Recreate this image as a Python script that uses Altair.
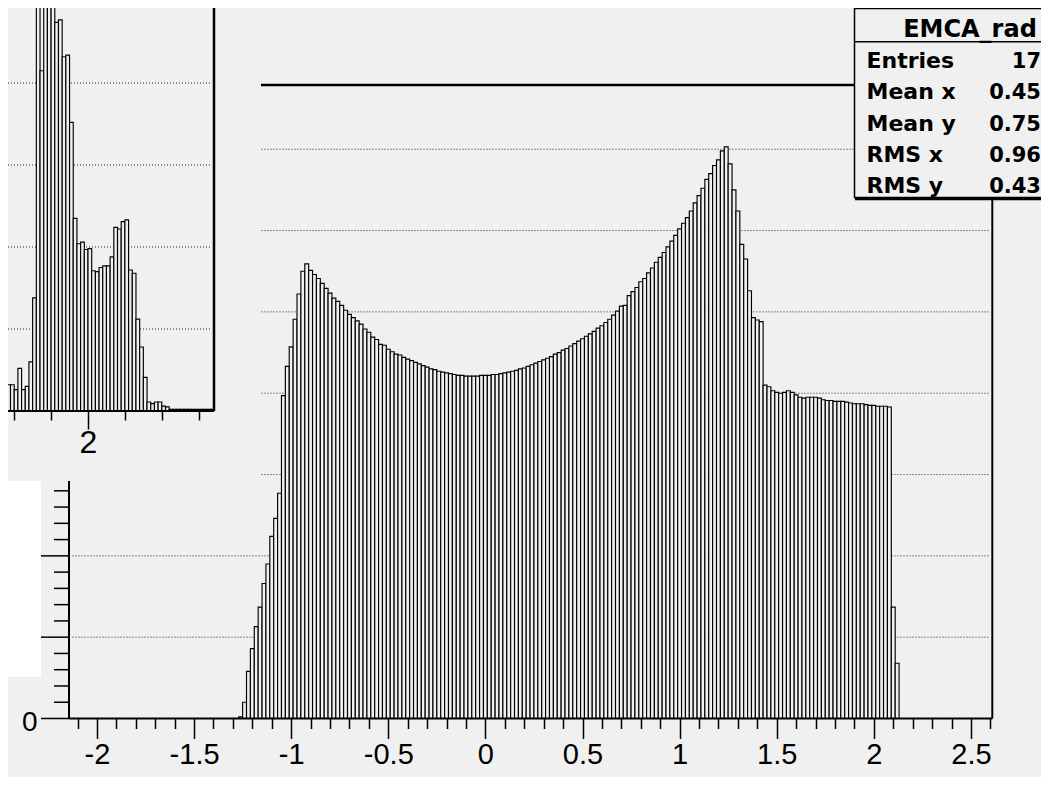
import altair as alt
import pandas as pd

BG = "#f0f0f0"

# ---------------- data ----------------
MAIN_BIN_START = -1.27
MAIN_BIN_WIDTH = 0.02
MAIN_COUNTS = [
    0.02, 0.20, 0.58, 0.86, 1.13, 1.37, 1.66, 1.90, 2.24, 2.46,
    2.77, 3.97, 4.33, 4.57, 4.91, 5.22, 5.50, 5.59, 5.51, 5.46,
    5.41, 5.35, 5.29, 5.23, 5.17, 5.13, 5.08, 5.02, 4.97, 4.93,
    4.89, 4.85, 4.79, 4.75, 4.69, 4.66, 4.60, 4.59, 4.54, 4.51,
    4.48, 4.47, 4.44, 4.42, 4.40, 4.38, 4.36, 4.34, 4.32, 4.30,
    4.29, 4.27, 4.26, 4.25, 4.24, 4.23, 4.22, 4.22, 4.21, 4.21,
    4.21, 4.21, 4.22, 4.22, 4.22, 4.23, 4.23, 4.24, 4.25, 4.26,
    4.27, 4.28, 4.30, 4.31, 4.33, 4.35, 4.37, 4.39, 4.41, 4.43,
    4.45, 4.48, 4.50, 4.53, 4.55, 4.58, 4.61, 4.64, 4.67, 4.70,
    4.73, 4.76, 4.80, 4.83, 4.87, 4.91, 4.96, 5.01, 5.07, 5.08,
    5.20, 5.25, 5.30, 5.37, 5.41, 5.48, 5.54, 5.61, 5.67, 5.73,
    5.80, 5.87, 5.94, 6.02, 6.09, 6.16, 6.24, 6.34, 6.43, 6.52,
    6.63, 6.70, 6.80, 6.87, 6.98, 7.03, 6.82, 6.50, 6.24, 5.83,
    5.65, 5.26, 4.93, 4.90, 4.88, 4.10, 4.08, 4.03, 4.01, 4.00,
    4.01, 4.03, 4.01, 3.98, 3.95, 3.94, 3.95, 3.95, 3.95, 3.94,
    3.92, 3.91, 3.91, 3.90, 3.90, 3.90, 3.89, 3.88, 3.87, 3.87,
    3.87, 3.86, 3.85, 3.85, 3.84, 3.84, 3.84, 3.83, 1.37, 0.68,
]

INSET_BIN_START = 1.52
INSET_BIN_WIDTH = 0.02
INSET_COUNTS = [
    0.20, 0.22, 0.32, 0.32, 0.26, 0.52, 0.26, 0.30, 0.60, 1.38,
    5.80, 4.15, 6.50, 6.80, 6.20, 4.74, 4.77, 4.32, 4.34, 3.52,
    2.35, 2.04, 2.06, 1.97, 1.98, 1.71, 1.70, 1.75, 1.77, 1.77,
    1.88, 2.24, 2.22, 2.31, 2.33, 1.72, 1.68, 1.12, 0.78, 0.41,
    0.11, 0.09, 0.11, 0.11, 0.06, 0.05, 0.02, 0.02, 0.02, 0.02,
    0.02, 0.02, 0.02, 0.02, 0.02, 0.02, 0.02, 0.02,
]

MAIN_GRID = [1, 2, 3, 4, 5, 6, 7]
INSET_GRID = [1, 2, 3, 4]
MAIN_X_TICKS = [round(-2.1 + 0.1 * k, 1) for k in range(48)]
MAIN_Y_MAJOR = [0, 1, 2, 3, 4, 5, 6, 7]
MAIN_Y_MINOR = [round(0.2 * k, 1) for k in range(39) if k % 5 != 0]
MAIN_Y_LABELS = ["0"]
INSET_X_TICKS = [1.6, 1.8, 2.0, 2.2, 2.4, 2.6]

STATS_TITLE = "EMCA_rad"
STATS_LABELS = ["Entries", "Mean x", "Mean y", "RMS x", "RMS y"]
STATS_VALUES = ["17", "0.45", "0.75", "0.96", "0.43"]

# ---------------- tables ----------------
main_df = pd.DataFrame({
    "x0": [MAIN_BIN_START + i * MAIN_BIN_WIDTH for i in range(len(MAIN_COUNTS))],
    "v": MAIN_COUNTS,
})
main_df["x1"] = main_df["x0"] + MAIN_BIN_WIDTH
main_df["z"] = 0.0

inset_df = pd.DataFrame({
    "x0": [INSET_BIN_START + i * INSET_BIN_WIDTH for i in range(len(INSET_COUNTS))],
    "v": INSET_COUNTS,
})
inset_df["x1"] = inset_df["x0"] + INSET_BIN_WIDTH
inset_df["z"] = 0.0

stats_df = pd.DataFrame({"row": list(range(len(STATS_LABELS))),
                         "label": STATS_LABELS, "val": STATS_VALUES})
one = pd.DataFrame({"a": [0]})

# ---------------- scales ----------------
main_x = alt.Scale(domain=[-2.144, 2.61], range=[61, 984.3], nice=False, zero=False)
main_y = alt.Scale(domain=[0, 7.79], range=[710.5, 77], nice=False, zero=False)
inset_x = alt.Scale(domain=[1.5, 2.7], range=[-12.25, 209.15], nice=False, zero=False)
inset_y = alt.Scale(domain=[0, 5], range=[403, -7], nice=False, zero=False)

MAJOR_X = "abs(datum.value*2 - round(datum.value*2)) < 0.01"

main_x_axis = alt.Axis(
    values=MAIN_X_TICKS, orient="bottom", offset=-58.5, domain=False, grid=False,
    title=None, tickColor="black", tickWidth=1.5,
    tickSize={"condition": {"test": MAJOR_X, "value": 20}, "value": 10},
    labelExpr=MAJOR_X + " ? ((datum.value < 0 ? '-' : '') + format(abs(datum.value), '~g')) : ''",
    labelFont="Liberation Sans", labelFontSize=29, labelColor="black",
    labelPadding=2, labelFlush=False, labelOverlap=False,
)
inset_x_axis = alt.Axis(
    values=INSET_X_TICKS, orient="bottom", offset=-366, domain=False, grid=False,
    title=None, tickColor="black", tickWidth=1.5,
    tickSize={"condition": {"test": "datum.value == 2", "value": 18}, "value": 9},
    labelExpr="datum.value == 2 ? '2' : ''",
    labelFont="Liberation Sans", labelFontSize=32, labelColor="black",
    labelPadding=-2, labelFlush=False, labelOverlap=False, zindex=1,
)


def vrule(x, y, y2, w=2):
    return alt.Chart(one).mark_rule(color="black", strokeWidth=w).encode(
        x=alt.value(x), y=alt.value(y), y2=alt.value(y2))


def hrule(y, x, x2, w=2):
    return alt.Chart(one).mark_rule(color="black", strokeWidth=w).encode(
        y=alt.value(y), x=alt.value(x), x2=alt.value(x2))


# ---------------- main histogram ----------------
main_grid = alt.Chart(pd.DataFrame({"g": MAIN_GRID})).mark_rule(
    color="#222", strokeDash=[1, 2], strokeWidth=1
).encode(y=alt.Y("g:Q", scale=main_y, axis=None), x=alt.value(64.5), x2=alt.value(981))

main_bars = alt.Chart(main_df).mark_rect(fill=BG, stroke="black", strokeWidth=1.15).encode(
    x=alt.X("x0:Q", scale=main_x, axis=main_x_axis),
    x2="x1",
    y=alt.Y("v:Q", scale=main_y, axis=None),
    y2="z",
)

y_major = alt.Chart(pd.DataFrame({"t": MAIN_Y_MAJOR})).mark_rule(
    color="black", strokeWidth=1.5
).encode(y=alt.Y("t:Q", scale=main_y, axis=None), x=alt.value(33), x2=alt.value(61))
y_minor = alt.Chart(pd.DataFrame({"t": MAIN_Y_MINOR})).mark_rule(
    color="black", strokeWidth=1.5
).encode(y=alt.Y("t:Q", scale=main_y, axis=None), x=alt.value(46), x2=alt.value(61))
y_label = alt.Chart(pd.DataFrame({"t": [0], "s": MAIN_Y_LABELS})).mark_text(
    font="Liberation Sans", fontSize=28, align="right", baseline="middle",
    color="black", dy=4
).encode(y=alt.Y("t:Q", scale=main_y, axis=None), x=alt.value(29.5), text="s:N")

main = alt.layer(
    main_grid, main_bars, y_major, y_minor, y_label,
    hrule(77, 61, 984.3, 2.5), vrule(984.3, 77, 710.5), hrule(710.5, 61, 984.3), vrule(61, 77, 710.5),
)

# ---------------- inset (overlapping pad) ----------------
inset_bg = alt.Chart(one).mark_rect(fill=BG).encode(
    x=alt.value(0), x2=alt.value(253), y=alt.value(0), y2=alt.value(473))

inset_grid = alt.Chart(pd.DataFrame({"g": INSET_GRID})).mark_rule(
    color="#222", strokeDash=[1, 2], strokeWidth=1
).encode(y=alt.Y("g:Q", scale=inset_y, axis=None), x=alt.value(0), x2=alt.value(202))

inset_bars = alt.Chart(inset_df).mark_rect(fill=BG, stroke="black", strokeWidth=1.15).encode(
    x=alt.X("x0:Q", scale=inset_x, axis=inset_x_axis),
    x2="x1",
    y=alt.Y("v:Q", scale=inset_y, axis=None),
    y2="z",
)

inset = alt.layer(inset_bg, inset_grid, inset_bars,
                  vrule(206, 0, 403, 2.5), hrule(403, 0, 206, 2))

white_box = alt.Chart(one).mark_rect(fill="white").encode(
    x=alt.value(0), x2=alt.value(33), y=alt.value(472.7), y2=alt.value(668.7))

# ---------------- stats box ----------------
stats_rect = alt.Chart(one).mark_rect(fill=BG, stroke="black", strokeWidth=1.5).encode(
    x=alt.value(846.5), x2=alt.value(1100), y=alt.value(0.5), y2=alt.value(189.5))
stats_title = alt.Chart(one).mark_text(
    text=STATS_TITLE, font="DejaVu Sans", fontWeight="bold", fontSize=24,
    align="center", baseline="alphabetic", color="black"
).encode(x=alt.value(962), y=alt.value(29))
rows_y = alt.Y("row:Q", scale=alt.Scale(domain=[0, 4], range=[60, 185], nice=False, zero=False), axis=None)
stats_labels = alt.Chart(stats_df).mark_text(
    font="DejaVu Sans", fontWeight="bold", fontSize=22, align="left",
    baseline="alphabetic", color="black"
).encode(x=alt.value(858.5), y=rows_y, text="label:N")
stats_values = alt.Chart(stats_df).mark_text(
    font="DejaVu Sans", fontWeight="bold", fontSize=21, align="right",
    baseline="alphabetic", color="black"
).encode(x=alt.value(1033), y=rows_y, text="val:N")

stats = alt.layer(
    stats_rect, hrule(33.7, 846.5, 1033, 1.5), hrule(191, 847, 1033, 2.5),
    stats_title, stats_labels, stats_values,
)

chart = alt.layer(main, inset, white_box, stats).resolve_scale(
    x="independent", y="independent"
).properties(
    width=1033, height=769, background=BG, padding=0,
    autosize=alt.AutoSizeParams(type="none"),
).configure_view(stroke=None)

chart.save("out.html", embed_options={"renderer": "svg", "actions": False})
